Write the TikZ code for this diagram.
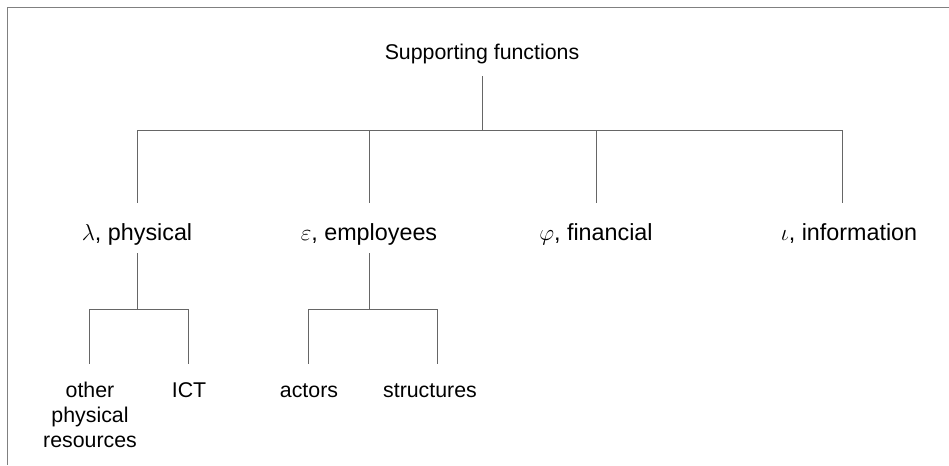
\documentclass[tikz,border=0pt]{standalone}
\usepackage{fontspec}
\setmainfont{Liberation Sans}
\usetikzlibrary{calc}
\begin{document}
\begin{tikzpicture}[x=0.75pt,y=-0.75pt,
  frame/.style={draw=black!50,line width=1.2pt},
  conn/.style={draw=black!60,line width=0.75pt},
  lbl/.style={inner sep=0pt,anchor=base,align=center,font=\fontsize{16}{18.75}\selectfont},
  lvlone/.style={inner sep=0pt,anchor=base,font=\fontsize{17.5}{21}\selectfont}]
\useasboundingbox (0,0) rectangle (949,465);
% open frame: top and left edges only
\draw[frame] (949,7.5) -- (7.5,7.5) -- (7.5,465);

% root
\node[lbl] (sf) at (482,59) {Supporting functions};

% first level
\node[lvlone] (phys) at (137,240) {$\lambda$, physical};
\node[lvlone] (empl) at (369,240) {$\varepsilon$, employees};
\node[lvlone] (fin)  at (596,240) {$\varphi$, financial};
\node[lvlone] (info) at (849,240) {$\iota$, information};

% second level (a multi-line node sits on the baseline of its last line)
\node[lbl] (other) at (90,447)  {other\\physical\\resources};
\node[lbl] (ict)   at (189,397) {ICT};
\node[lbl] (act)   at (309,397) {actors};
\node[lbl] (str)   at (430,397) {structures};

% root bar
\coordinate (hub) at (482,130);
\coordinate (dL) at (137,130);
\coordinate (dE) at (369,130);
\coordinate (dF) at (596,130);
\coordinate (dI) at (842,130);
\draw[conn] ($(sf.base)+(0,17)$) -- (hub);
\draw[conn] (dL) -- (dI);
\draw[conn] (dL) -- ($(phys.base)+(0,-37)$);
\draw[conn] (dE) -- ($(empl.base)+(0,-37)$);
\draw[conn] (dF) -- ($(fin.base)+(0,-37)$);
\draw[conn] (dI) -- ($(info.base)+(-7,-37)$);

% physical branch
\coordinate (jL) at (137,309);
\coordinate (jLa) at (89,309);
\coordinate (jLb) at (188,309);
\draw[conn] ($(phys.base)+(0,13)$) -- (jL);
\draw[conn] (jLa) -- (jLb);
\draw[conn] (jLa) -- ($(other.base)+(-1,-83)$);
\draw[conn] (jLb) -- ($(ict.base)+(-1,-33)$);

% employees branch
\coordinate (jE) at (369,309);
\coordinate (jEa) at (308,309);
\coordinate (jEb) at (437,309);
\draw[conn] ($(empl.base)+(0,13)$) -- (jE);
\draw[conn] (jEa) -- (jEb);
\draw[conn] (jEa) -- ($(act.base)+(-1,-33)$);
\draw[conn] (jEb) -- ($(str.base)+(7,-33)$);
\end{tikzpicture}
\end{document}
